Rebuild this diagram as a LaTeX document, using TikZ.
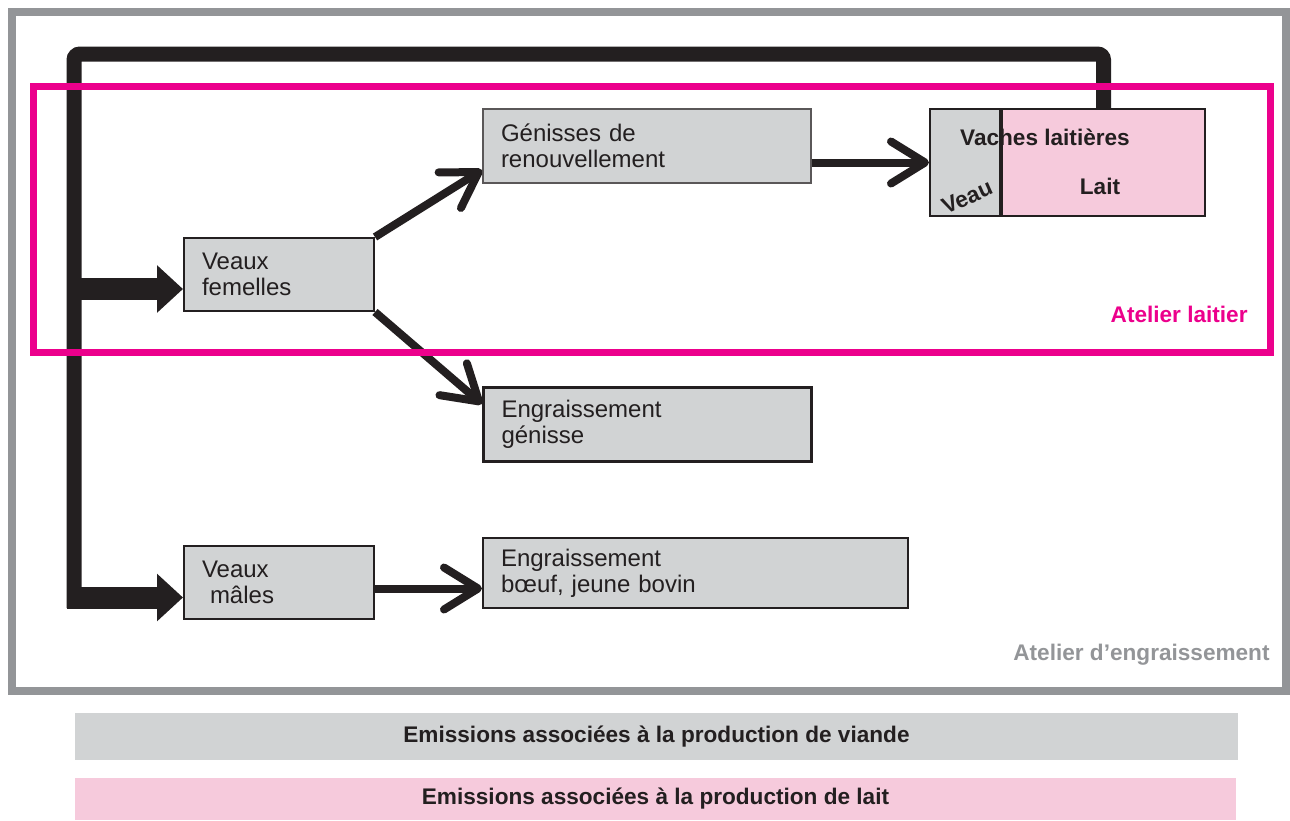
\documentclass[tikz,border=0pt]{standalone}
\usepackage{fontspec}
\setmainfont{Liberation Sans}
\usetikzlibrary{arrows.meta}

\definecolor{boxgray}{HTML}{D1D3D4}
\definecolor{milkpink}{HTML}{F6CADC}
\definecolor{atelierpink}{HTML}{EC008C}
\definecolor{framegray}{HTML}{939598}
\definecolor{darkline}{HTML}{231F20}

\tikzset{
  box/.style={draw=darkline, line width=1pt, fill=boxgray, anchor=north west,
    align=left, inner xsep=9pt, inner ysep=0pt},
  flow/.style={draw=darkline, line width=4pt,
    -{Straight Barb[round, length=17pt, width=21pt]}},
  bigflow/.style={draw=darkline, line width=11pt,
    -{Triangle[length=13pt, width=23pt]}},
  trunk/.style={draw=darkline, line width=7.5pt, rounded corners=3pt},
  boldtxt/.style={font=\fontsize{11.3}{13}\selectfont\bfseries},
  band/.style={minimum width=#1, inner sep=0pt, boldtxt}
}

\begin{document}
\begin{tikzpicture}[x=0.5pt, y=-0.5pt, font=\fontsize{12}{13}\selectfont, text=darkline]
\useasboundingbox (0,0) rectangle (1290,820);
\coordinate (top) at (74,54);
\coordinate (base) at (74,608);
\coordinate (fem) at (74,289);
\coordinate (male) at (67,597.5);

% outer frame
\draw[framegray, line width=4pt] (12,12) rectangle (1286,691);

% draws boxes
\node[box, minimum width=95pt, minimum height=36.5pt, text width=77pt] (vf) at (183,237) {Veaux\\femelles};
\node[box, minimum width=95pt, minimum height=36.5pt, text width=77pt] (vm) at (183,545) {Veaux\\\ m\^ales};
\node[box, draw=darkline!75, minimum width=164pt, minimum height=37pt, text width=146pt] (gr) at (482,108) {G\'enisses de\\renouvellement};
\node[box, line width=1.5pt, minimum width=164pt, minimum height=37pt, text width=146pt] (eg) at (482,386) {Engraissement\\g\'enisse};
\node[box, minimum width=212.5pt, minimum height=35pt, text width=194.5pt] (eb) at (482,537) {Engraissement\\b\oe uf, jeune bovin};
\node[box, minimum width=35pt, minimum height=53.5pt, inner xsep=0pt] (veau) at (929,108) {};
\node[box, fill=milkpink, minimum width=101.5pt, minimum height=53.5pt, inner xsep=0pt] (lait) at (veau.north east) {};

% labels
\node[boldtxt, inner sep=1pt] (vachestxt) at (1045,137) {Vaches laiti\`eres};
\node[boldtxt] (laittxt) at (1100,186) {Lait};
\node[boldtxt, inner sep=0pt, rotate=24] (veautxt) at (967,197) {Veau};
\node[boldtxt, anchor=east, inner sep=0pt, text=atelierpink] (lab1) at (1248,314) {Atelier laitier};
\node[boldtxt, anchor=east, inner sep=0pt, text=framegray] (lab2) at (1270,655) {Atelier d’engraissement};

% draws trunk and arrows
\draw[trunk] (lait.north) |- (top) -- (base);
\draw[bigflow] (fem) -- (fem -| vf.west);
\draw[bigflow] (male) -- (male -| vm.west);
\draw[flow] (vf.north east) -- ([yshift=7pt]gr.south west);
\draw[flow] (vf.south east) -- ([yshift=-9pt]eg.north west);
\draw[flow] (gr.east |- veau.west) -- (veau.west);
\draw[flow] ([yshift=-3pt]vm.east) -- ([yshift=-3pt]vm.east -| eb.west);

% dairy frame
\draw[atelierpink, line width=3.5pt] (33,86) rectangle (1270,352);

% bands
\node[band=581.5pt, fill=boxgray, minimum height=23.5pt] (viande) at (656.5,736.5) {Emissions associ\'ees \`a la production de viande};
\node[band=580.5pt, fill=milkpink, minimum height=21pt] (laitband) at (655.5,799) {Emissions associ\'ees \`a la production de lait};
\end{tikzpicture}
\end{document}
